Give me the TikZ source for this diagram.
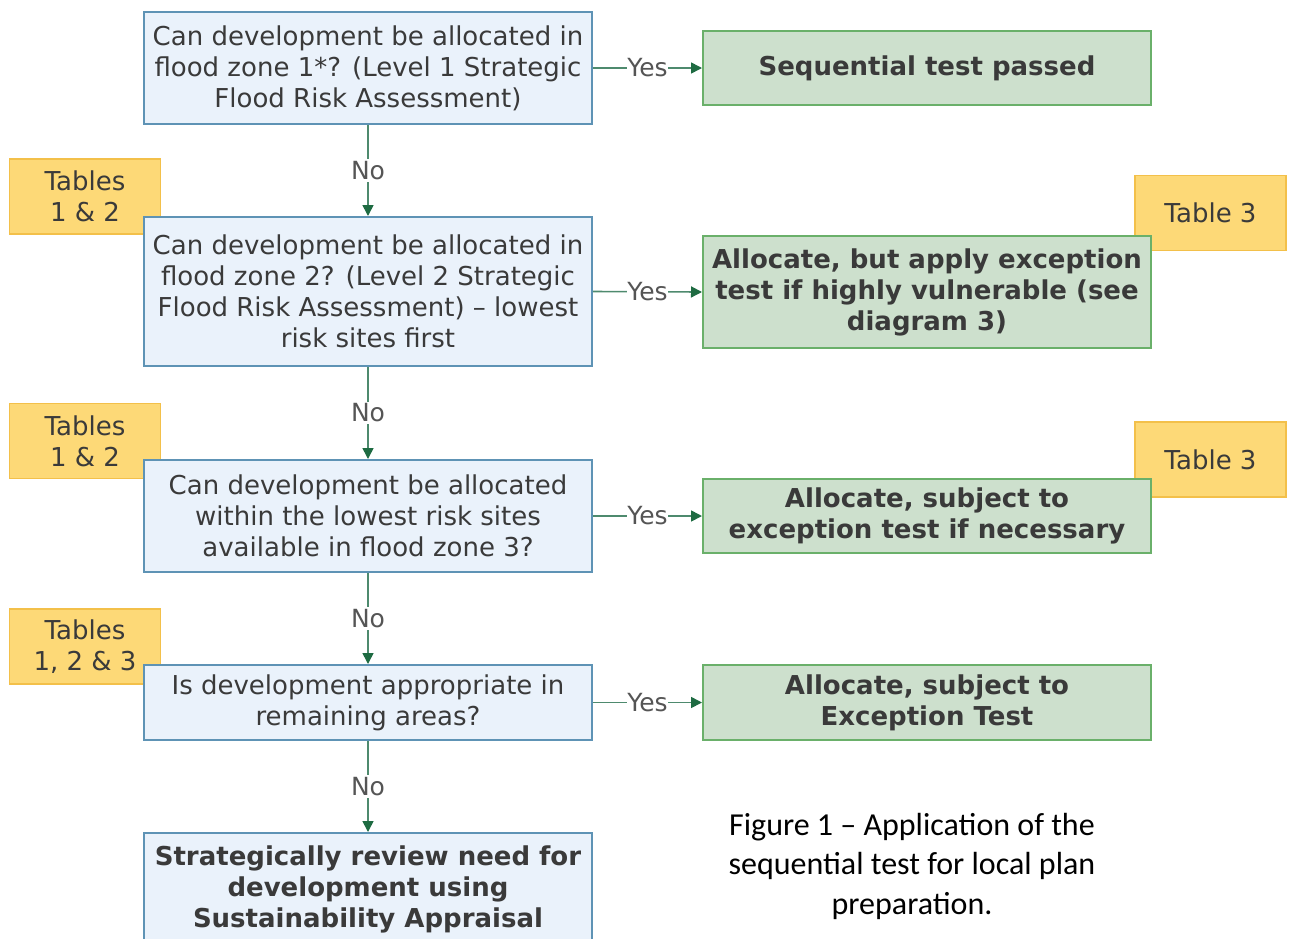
\documentclass[tikz,border=0pt]{standalone}
\usepackage{fontspec}
\setmainfont{DejaVu Sans}
\newfontfamily\capfont{Carlito}
\usetikzlibrary{arrows.meta}
\definecolor{bfill}{HTML}{EAF2FB}
\definecolor{bdraw}{HTML}{5E93B5}
\definecolor{gfill}{HTML}{CDE0CD}
\definecolor{gdraw}{HTML}{6AB06A}
\definecolor{yfill}{HTML}{FDD977}
\definecolor{ydraw}{HTML}{F3C04A}
\definecolor{txt}{HTML}{3A3A3A}
\definecolor{lbltxt}{HTML}{555555}
\definecolor{lnc}{HTML}{4E8A6E}
\definecolor{arr}{HTML}{1E6B42}
\tikzset{
  qbox/.style={draw=bdraw,fill=bfill,line width=2pt,minimum width=448pt,align=center,text=txt,font=\fontsize{26}{31}\selectfont,inner sep=0pt},
  gbox/.style={draw=gdraw,fill=gfill,line width=2pt,minimum width=448pt,align=center,text=txt,font=\fontsize{26}{31}\selectfont\bfseries,inner sep=0pt},
  ybox/.style={draw=ydraw,fill=yfill,line width=1.5pt,minimum width=151pt,minimum height=75pt,align=center,text=txt,font=\fontsize{26}{31}\selectfont,inner sep=0pt},
  conn/.style={draw=lnc,line width=1.6pt,-{Triangle[length=11pt,width=11pt,color=arr]}},
  lbl/.style={fill=white,text=lbltxt,font=\fontsize{25}{28}\selectfont,inner xsep=0.5pt,inner ysep=2pt},
}
\begin{document}
\begin{tikzpicture}[x=1pt,y=-1pt]
\useasboundingbox (0,0) rectangle (1290,938);
% yellow tags
\node[ybox] (y1) at (85,196.5) {Tables\\1 \& 2};
\node[ybox] (y2) at (85,441) {Tables\\1 \& 2};
\node[ybox] (y3) at (85,646.5) {Tables\\1, 2 \& 3};
\node[ybox] (t1) at (1210.5,213) {Table 3};
\node[ybox] (t2) at (1210.5,459.5) {Table 3};
% question boxes
\node[qbox,minimum height=112pt] (q1) at (368,68) {Can development be allocated in\\flood zone 1*? (Level 1 Strategic\\Flood Risk Assessment)};
\node[qbox,minimum height=149pt] (q2) at (368,291.5) {Can development be allocated in\\flood zone 2? (Level 2 Strategic\\Flood Risk Assessment) – lowest\\risk sites first};
\node[qbox,minimum height=112pt] (q3) at (368,516) {Can development be allocated\\within the lowest risk sites\\available in flood zone 3?};
\node[qbox,minimum height=75pt] (q4) at (368,702.5) {Is development appropriate in\\remaining areas?};
\node[qbox,minimum height=112pt,font=\fontsize{26}{31}\selectfont\bfseries] (q5) at (368,889) {Strategically review need for\\development using\\Sustainability Appraisal};
% result boxes
\node[gbox,minimum height=74pt] (g1) at (927,68) {Sequential test passed};
\node[gbox,minimum height=112pt] (g2) at (927,292) {Allocate, but apply exception\\test if highly vulnerable (see\\diagram 3)};
\node[gbox,minimum height=74pt] (g3) at (927,516) {Allocate, subject to\\exception test if necessary};
\node[gbox,minimum height=75pt] (g4) at (927,702.5) {Allocate, subject to\\Exception Test};
% connectors
\draw[conn] (q1) -- node[lbl]{No} (q2);
\draw[conn] (q2) -- node[lbl]{No} (q3);
\draw[conn] (q3) -- node[lbl]{No} (q4);
\draw[conn] (q4) -- node[lbl]{No} (q5);
\draw[conn] (q1.east) -- node[lbl]{Yes} (g1.west);
\draw[conn] (q2.east) -- node[lbl]{Yes} (g2.west);
\draw[conn] (q3.east) -- node[lbl]{Yes} (g3.west);
\draw[conn] (q4.east) -- node[lbl]{Yes} (g4.west);
% caption
\node[align=center,font=\capfont\fontsize{32}{39.5}\selectfont,text=black] (cap) at (912,866) {Figure 1 – Application of the\\sequential test for local plan\\preparation.};
\end{tikzpicture}
\end{document}
